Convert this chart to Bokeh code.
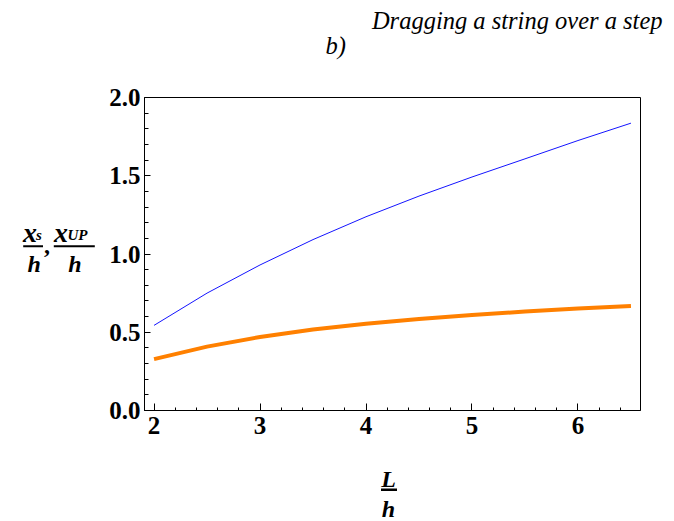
from bokeh.plotting import figure
from bokeh.models import BoxAnnotation, FixedTicker, Range1d
from bokeh.layouts import column, row
from bokeh.core.properties import value
from bokeh.embed import file_html
from bokeh.resources import INLINE

# ---- data ----
L_over_h = [2.0, 2.5, 3.0, 3.5, 4.0, 4.5, 5.0, 5.5, 6.0, 6.5]
xUP_over_h = [0.544, 0.750, 0.930, 1.092, 1.238, 1.370, 1.492, 1.608, 1.725, 1.836]
xs_over_h = [0.328, 0.408, 0.470, 0.518, 0.555, 0.585, 0.610, 0.632, 0.651, 0.668]

x_major = [2, 3, 4, 5, 6]
x_minor = [2.2, 2.4, 2.6, 2.8, 3.2, 3.4, 3.6, 3.8, 4.2, 4.4, 4.6, 4.8,
           5.2, 5.4, 5.6, 5.8, 6.2, 6.4]
y_major = [0.0, 0.5, 1.0, 1.5, 2.0]
y_minor = [0.1, 0.2, 0.3, 0.4, 0.6, 0.7, 0.8, 0.9, 1.1, 1.2, 1.3, 1.4,
           1.6, 1.7, 1.8, 1.9]
y_tick_labels = {0.0: "0.0", 0.5: "0.5", 1.0: "1.0", 1.5: "1.5", 2.0: "2.0"}

title_text = "Dragging a string over a step"
subtitle_text = "b)"

SERIF = "Liberation Serif"
DY = -4  # baseline correction for text glyphs


def blank(w, h, xr, yr):
    f = figure(width=w, height=h, output_backend="svg", toolbar_location=None,
               x_range=Range1d(*xr), y_range=Range1d(*yr),
               x_axis_location=None, y_axis_location=None, min_border=0)
    f.outline_line_color = None
    f.grid.visible = False
    f.background_fill_color = "white"
    f.border_fill_color = "white"
    return f


def txt(f, x, y, s, size="24px", style="bold italic", align="left"):
    f.text(x=[x], y=[y + DY], text=[s], text_font=value(SERIF), text_font_style=style,
           text_font_size=value(size), text_align=align,
           text_baseline="alphabetic", text_color="black")


def bar(f, l, r, b, t):
    f.add_layout(BoxAnnotation(left=l, right=r, bottom=b, top=t,
                               fill_color="black", fill_alpha=1.0,
                               line_color=None))


# ---- top strip: titles ----
top = blank(674, 70, (0, 674), (70, 0))
txt(top, 662, 24, title_text, size="24.5px", style="italic", align="right")
txt(top, 325, 49, subtitle_text, size="24.5px", style="italic")

# ---- left strip: y label  x_s/h , x_UP/h ----
left = blank(100, 390, (0, 100), (460, 70))
txt(left, 22.5, 242.5, "x", size="28px")
txt(left, 35.5, 245, "s", size="15px")
bar(left, 22.7, 42.5, 254, 256.5)
txt(left, 33.7, 281, "h", align="center")
txt(left, 43.5, 258, ",", style="bold")
txt(left, 53.5, 242.5, "x", size="28px")
txt(left, 67, 245, "UP", size="15px")
bar(left, 53.3, 94.3, 254, 256.5)
txt(left, 74.5, 281, "h", align="center")

# ---- main plot ----
p = figure(width=574, height=390, output_backend="svg", toolbar_location=None,
           x_range=Range1d(1.91, 6.59), y_range=Range1d(0, 2.0),
           min_border_left=44, min_border_right=34,
           min_border_top=27, min_border_bottom=50)
p.background_fill_color = "white"
p.border_fill_color = "white"
p.outline_line_color = "black"
p.outline_line_width = 1
p.grid.visible = False

for ax in (p.xaxis, p.yaxis):
    ax.axis_line_color = "black"
    ax.major_tick_line_color = "black"
    ax.minor_tick_line_color = "black"
    ax.major_tick_out = 0
    ax.minor_tick_out = 0
    ax.major_label_text_font = SERIF
    ax.major_label_text_font_style = "bold"
    ax.major_label_text_color = "black"
    ax.major_label_text_font_size = "25px"

p.xaxis.major_tick_in = 7
p.xaxis.minor_tick_in = 3
p.yaxis.major_tick_in = 6
p.yaxis.minor_tick_in = 4
p.xaxis.ticker = FixedTicker(ticks=x_major, minor_ticks=x_minor)
p.yaxis.ticker = FixedTicker(ticks=y_major, minor_ticks=y_minor)
p.yaxis.major_label_overrides = y_tick_labels
p.xaxis.major_label_standoff = 6
p.yaxis.major_label_standoff = 4

p.line(L_over_h, xUP_over_h, line_color="#1414ff", line_width=1)
p.line(L_over_h, xs_over_h, line_color="#ff8000", line_width=4)

# ---- bottom strip: x label  L/h ----
bottom = blank(674, 61, (0, 674), (521, 460))
txt(bottom, 388, 482, "L", align="center")
bar(bottom, 380.5, 396.5, 488, 490.5)
txt(bottom, 388, 512, "h", align="center")

layout = column(top, row(left, p), bottom)

open("out.html", "w").write(file_html(layout, INLINE))
